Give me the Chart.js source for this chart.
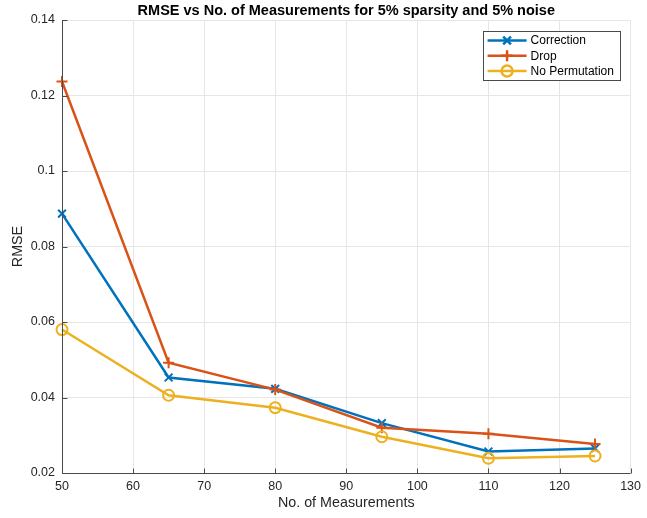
<!DOCTYPE html>
<html>
<head>
<meta charset="utf-8">
<script src="https://cdn.jsdelivr.net/npm/chart.js@4"></script>
<style>
  html, body { margin: 0; padding: 0; background: #fff; }
  canvas { display: block; }
</style>
</head>
<body>
<canvas id="rmseChart" width="647" height="518"></canvas>
<script>
// Dados: RMSE por número de medições
const measurements = [50, 65, 80, 95, 110, 125];
const correction   = [0.0887, 0.0453, 0.0423, 0.0332, 0.0257, 0.0265];
const drop         = [0.1237, 0.0492, 0.0421, 0.0320, 0.0304, 0.0277];
const noPermut     = [0.0580, 0.0406, 0.0373, 0.0296, 0.0239, 0.0245];

const xTicks = [50, 60, 70, 80, 90, 100, 110, 120, 130];
const yTicks = [0.02, 0.04, 0.06, 0.08, 0.1, 0.12, 0.14];

const FONT = 'Helvetica, "Liberation Sans", Arial, sans-serif';
const TEXT_COLOR = '#262626';
const AXIS_COLOR = '#4a4a4a';
const LINE_W = 2.5;

const toPoints = (ys) => ys.map((y, i) => ({ x: measurements[i], y }));

// Eixos esquerdo/inferior com ticks para dentro (estilo MATLAB)
const axesPlugin = {
    id: 'axesPlugin',
    afterDatasetsDraw(chart) {
        const { ctx, chartArea: a, scales } = chart;
        const L = Math.round(a.left) + 0.5, B = Math.round(a.bottom) + 0.5;
        ctx.save();
        ctx.strokeStyle = AXIS_COLOR;
        ctx.lineWidth = 1;
        ctx.beginPath();
        ctx.moveTo(L, a.top); ctx.lineTo(L, B); ctx.lineTo(a.right, B);
        xTicks.forEach(v => {
            const px = Math.round(scales.x.getPixelForValue(v)) + 0.5;
            ctx.moveTo(px, B); ctx.lineTo(px, B - 5);
        });
        yTicks.forEach(v => {
            const py = Math.round(scales.y.getPixelForValue(v)) + 0.5;
            ctx.moveTo(L, py); ctx.lineTo(L + 5, py);
        });
        ctx.stroke();
        ctx.restore();
    }
};

// Legenda com linha e marcador no meio
const legendPlugin = {
    id: 'legendPlugin',
    afterDraw(chart) {
        const { ctx, chartArea: a } = chart;
        const w = 137, h = 49;
        const x0 = a.right - 11 - w, y0 = a.top + 11;
        ctx.save();
        ctx.fillStyle = '#fff';
        ctx.fillRect(x0, y0, w, h);
        ctx.strokeStyle = AXIS_COLOR;
        ctx.lineWidth = 1;
        ctx.strokeRect(Math.round(x0) + 0.5, Math.round(y0) + 0.5, w, h);
        ctx.font = '12px ' + FONT;
        ctx.textBaseline = 'middle';
        chart.data.datasets.forEach((ds, i) => {
            const y = y0 + 9.5 + i * 15.3;
            ctx.strokeStyle = ds.borderColor;
            ctx.lineWidth = LINE_W;
            ctx.beginPath();
            ctx.moveTo(x0 + 5, y); ctx.lineTo(x0 + 44, y);
            ctx.stroke();
            ctx.fillStyle = 'rgba(0,0,0,0)';
            Chart.helpers.drawPoint(ctx, {
                pointStyle: ds.pointStyle, radius: 5.5, borderWidth: 2, rotation: 0
            }, x0 + 24.5, y);
            ctx.fillStyle = '#000';
            ctx.fillText(ds.label, x0 + 48, y + 0.5);
        });
        ctx.restore();
    }
};

function makeDataset(label, values, color, style, order) {
    return {
        label,
        data: toPoints(values),
        borderColor: color,
        backgroundColor: color,
        borderWidth: LINE_W,
        pointStyle: style,
        pointRadius: 5.5,
        pointHoverRadius: 5.5,
        pointBorderWidth: 2,
        pointBorderColor: color,
        pointBackgroundColor: 'rgba(0,0,0,0)',
        tension: 0,
        clip: false,
        order
    };
}

new Chart(document.getElementById('rmseChart').getContext('2d'), {
    type: 'line',
    data: {
        datasets: [
            makeDataset('Correction', correction, '#0072BD', 'crossRot', 3),
            makeDataset('Drop', drop, '#D95319', 'cross', 2),
            makeDataset('No Permutation', noPermut, '#EDB120', 'circle', 1)
        ]
    },
    options: {
        responsive: false,
        animation: false,
        layout: { padding: { left: 0, right: 12, top: 0, bottom: 0 } },
        plugins: {
            legend: { display: false },
            tooltip: { enabled: false },
            title: {
                display: true,
                fullSize: false,
                text: 'RMSE vs No. of Measurements for 5% sparsity and 5% noise',
                color: '#000',
                font: { family: FONT, size: 14.5, weight: 'bold', lineHeight: 1.2 },
                padding: { top: 2.3, bottom: 0.3 }
            }
        },
        scales: {
            x: {
                type: 'linear',
                min: 50, max: 130,
                afterBuildTicks: (s) => { s.ticks = xTicks.map(v => ({ value: v })); },
                afterFit: (s) => { s.height = 45; },
                grid: { color: '#e6e6e6', drawTicks: false },
                border: { display: false },
                ticks: { color: TEXT_COLOR, padding: 6, font: { family: FONT, size: 12.5 } },
                title: {
                    display: true, text: 'No. of Measurements', color: TEXT_COLOR,
                    font: { family: FONT, size: 14.3, lineHeight: 1.2 }, padding: { top: 0, bottom: 6.5 }
                }
            },
            y: {
                type: 'linear',
                min: 0.02, max: 0.14,
                afterBuildTicks: (s) => { s.ticks = yTicks.map(v => ({ value: v })); },
                afterFit: (s) => { s.width = 62; },
                grid: { color: '#e6e6e6', drawTicks: false },
                border: { display: false },
                ticks: {
                    color: TEXT_COLOR, padding: 7, font: { family: FONT, size: 12.5 },
                    callback: (v) => String(parseFloat(v.toFixed(2)))
                },
                title: {
                    display: true, text: 'RMSE', color: TEXT_COLOR,
                    font: { family: FONT, size: 14.3, lineHeight: 1.2 }, padding: { top: 9.5, bottom: 0 }
                }
            }
        }
    },
    plugins: [axesPlugin, legendPlugin]
});
</script>
</body>
</html>
